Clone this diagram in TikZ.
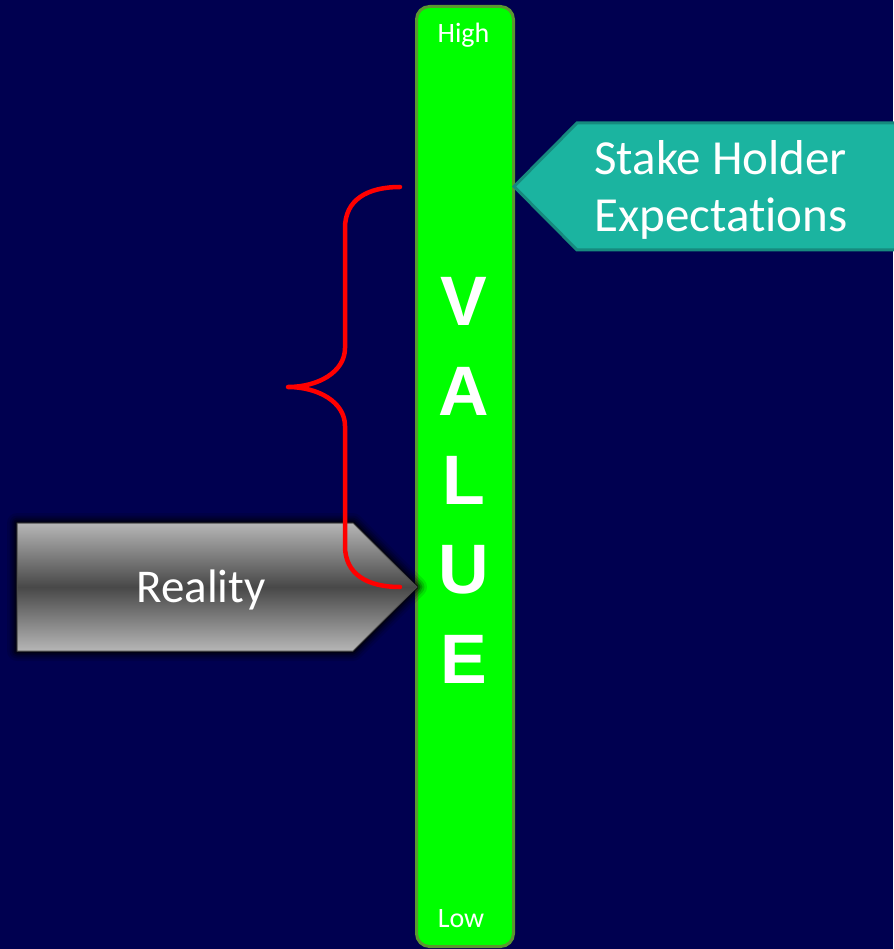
\documentclass[tikz,border=0pt]{standalone}
\usepackage{fontspec}
\setmainfont[Ligatures=NoCommon]{Carlito}
\newfontfamily\valuefont{Liberation Sans}
\definecolor{bgnavy}{RGB}{0,0,80}
\definecolor{barfill}{RGB}{0,255,0}
\definecolor{barline}{RGB}{92,150,48}
\definecolor{tealfill}{RGB}{27,180,160}
\definecolor{tealline}{RGB}{22,138,126}
\definecolor{graylight}{RGB}{182,182,182}
\definecolor{graydark}{RGB}{72,72,72}
\definecolor{bracered}{RGB}{255,0,0}
\tikzset{
  whitetxt/.style={text=white, inner sep=0pt},
  smalltxt/.style={whitetxt, font=\fontsize{28}{30}\selectfont},
  bigtxt/.style={whitetxt, font=\fontsize{49}{57}\selectfont},
  valueletter/.style={whitetxt, font=\valuefont\bfseries\fontsize{70}{70}\selectfont},
  barstyle/.style={fill=barfill, draw=barline, line width=3pt, rounded corners=13pt},
  tealstyle/.style={fill=tealfill, draw=tealline, line width=3pt, line join=miter},
  glow/.style={draw=black, line join=round},
  bracestyle/.style={draw=bracered, line width=4.5pt, line cap=round, line join=round},
}
\begin{document}
\begin{tikzpicture}[x=1pt,y=-1pt]
\fill[bgnavy] (0,0) rectangle (893,949);
\useasboundingbox (0,0) rectangle (893,949);

% value bar
\draw[barstyle] (416.5,6.5) rectangle (513.5,946.5);
\node[smalltxt, anchor=base] (high) at (463.5,43) {High};
\node[smalltxt, anchor=base] (low) at (461,927) {Low};
\foreach \l/\y/\n in {V/325/v1, A/415/v2, L/504/v3, U/593/v4, E/683/v5}
  \node[valueletter, anchor=base] (\n) at (463.5,\y) {\l};

% stake holder expectations arrow
\coordinate (stip) at (514,186.5);
\draw[tealstyle] (stip) -- (577,123) -- (900,123) -- (900,250) -- (577,250) -- cycle;
\node[bigtxt, anchor=base west] (stake1) at (594,175) {Stake Holder};
\node[bigtxt, anchor=base west] (stake2) at (594,232) {Expectations};

% reality arrow with glow
\coordinate (rtip) at (417,587);
\foreach \w/\o in {20/0.10, 15/0.15, 11/0.2, 7/0.3, 3/0.6}
  \draw[glow, line width=\w pt, opacity=\o] (17,523) -- (353,523) -- (rtip) -- (353,651) -- (17,651) -- cycle;
\shade[top color=graylight, bottom color=graylight, middle color=graydark]
  (17,523) -- (353,523) -- (rtip) -- (353,651) -- (17,651) -- cycle;
\draw[black!70, line width=1pt] (17,523) -- (353,523) -- (rtip) -- (353,651) -- (17,651) -- cycle;
\node[bigtxt, font=\fontsize{47}{50}\selectfont, anchor=base] (reality) at (201,602) {Reality};

% red brace
\coordinate (btop) at (400,187);
\coordinate (bmid) at (288,387);
\coordinate (bbot) at (400,587);
\draw[bracestyle] (btop) .. controls (367,187) and (345,200) .. (345,228)
  -- (345,348) .. controls (345,372) and (318,387) .. (bmid)
  .. controls (318,387) and (345,402) .. (345,426)
  -- (345,546) .. controls (345,574) and (367,587) .. (bbot);
\end{tikzpicture}
\end{document}
